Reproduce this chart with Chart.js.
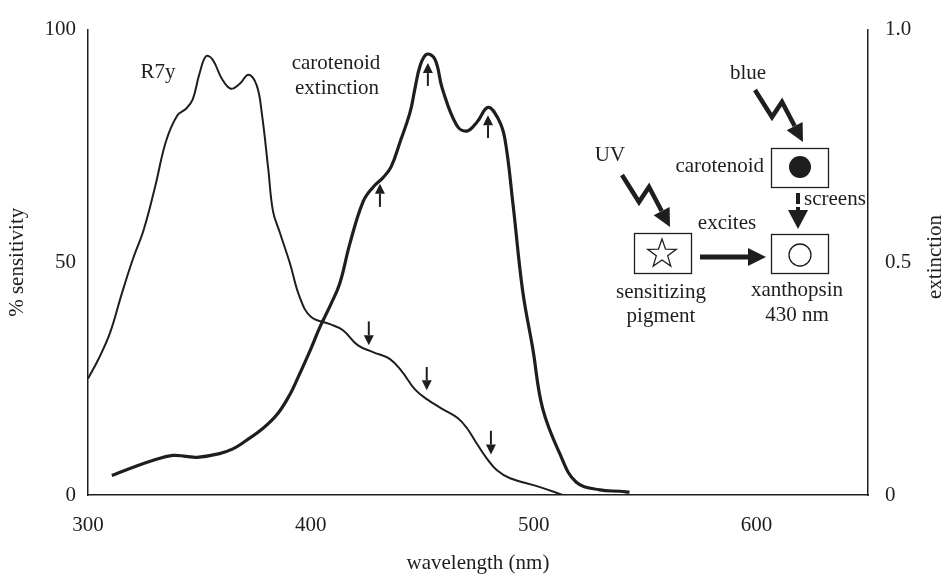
<!DOCTYPE html>
<html>
<head>
<meta charset="utf-8">
<script src="https://cdn.jsdelivr.net/npm/chart.js@4/dist/chart.umd.min.js"></script>
<style>
  html, body { margin: 0; padding: 0; background: #fff; }
  canvas { display: block; }
</style>
</head>
<body>
<canvas id="spectra" width="944" height="576"></canvas>
<script>
// R7y spectral sensitivity (% , left axis)
const r7yNm = [300, 305, 310, 315, 320, 325, 330, 335, 340, 344, 347, 350, 353, 356, 360, 364, 368, 372,
  375.7, 378, 380.9, 383, 386, 390.6, 395, 400, 408.6, 414.4, 421, 427.9, 435.5, 440.9, 446.7,
  452, 459.3, 466, 470, 474.5, 479, 483.5, 489.4, 502.8, 513];
const r7ySens = [25, 29.5, 35, 43, 50.5, 57, 66, 76, 81.5, 83, 85, 90.5, 94.3, 93.5, 89.5, 87.3, 88.3, 90.3,
  88, 82, 70, 61, 56.5, 49.8, 42.5, 38.3, 36.7, 35.4, 32.2, 30.7, 29.2, 26.5, 22.7,
  20.6, 18.4, 16.5, 14.4, 11, 7.8, 5.3, 3.6, 1.7, 0];

// carotenoid extinction (right axis)
const carNm = [310.7, 320, 329, 338, 344, 349, 359, 365, 371, 378.7, 385, 390.6, 394, 400, 404, 409, 413, 417.5,
  423.4, 428, 432.4, 436, 440, 444.5, 446.7, 449, 452, 455.7, 459, 465.5, 470, 474.5, 479.5, 484, 487,
  490.7, 495, 499.6, 504, 511.7, 519, 529.7, 538.7, 543];
const carExt = [0.042, 0.059, 0.074, 0.085, 0.083, 0.081, 0.089, 0.099, 0.117, 0.144, 0.174, 0.216, 0.25, 0.314, 0.36, 0.41, 0.455, 0.54,
  0.63, 0.662, 0.682, 0.705, 0.758, 0.822, 0.873, 0.922, 0.947, 0.936, 0.873, 0.794, 0.782, 0.801, 0.833, 0.809, 0.767,
  0.625, 0.44, 0.314, 0.186, 0.089, 0.028, 0.011, 0.008, 0.006];

const xTicks = [300, 400, 500, 600];
const sensTicks = [0, 50, 100];
const extTicks = [0, 0.5, 1.0];
const extTickLabels = ['0', '0.5', '1.0'];

// arrows marking the vibronic bands
const upArrowNm = [431, 452.5, 479.5];
const upArrowExt = [[0.619, 0.669], [0.879, 0.928], [0.767, 0.816]];
const downArrowNm = [426, 452, 480.8];
const downArrowSens = [[37.3, 32.2], [27.5, 22.5], [13.8, 8.7]];

const ink = '#1e1e1e';
const serif = '"Liberation Serif", "Times New Roman", serif';

Chart.defaults.font.family = serif;
Chart.defaults.font.size = 21;
Chart.defaults.color = ink;

function arrowHead(ctx, tx, ty, dx, dy, len, half) {
  const l = Math.hypot(dx, dy);
  const ux = dx / l, uy = dy / l;
  const bx = tx - ux * len, by = ty - uy * len;
  ctx.beginPath();
  ctx.moveTo(tx, ty);
  ctx.lineTo(bx - uy * half, by + ux * half);
  ctx.lineTo(bx + uy * half, by - ux * half);
  ctx.closePath();
  ctx.fill();
  return [bx, by];
}

function vArrow(ctx, px, yFrom, yTo) {
  const dir = yTo < yFrom ? -1 : 1;
  const [bx, by] = arrowHead(ctx, px, yTo, 0, dir, 10, 5);
  ctx.lineWidth = 2;
  ctx.beginPath();
  ctx.moveTo(px, yFrom);
  ctx.lineTo(bx, by);
  ctx.stroke();
}

// lightning-style arrow (light)
function bolt(ctx, x0, y0) {
  const pts = [[0, 0], [17, 27], [27, 12], [48, 52]];
  const last = pts[3], prev = pts[2];
  const [bx, by] = arrowHead(ctx, x0 + last[0], y0 + last[1], last[0] - prev[0], last[1] - prev[1], 18, 9);
  ctx.lineWidth = 4.5;
  ctx.lineJoin = 'miter';
  ctx.beginPath();
  ctx.moveTo(x0, y0);
  ctx.lineTo(x0 + pts[1][0], y0 + pts[1][1]);
  ctx.lineTo(x0 + pts[2][0], y0 + pts[2][1]);
  ctx.lineTo(bx, by);
  ctx.stroke();
}

function star(ctx, cx, cy, R, r) {
  ctx.beginPath();
  for (let i = 0; i < 10; i++) {
    const a = -Math.PI / 2 + i * Math.PI / 5;
    const rad = i % 2 === 0 ? R : r;
    const px = cx + rad * Math.cos(a), py = cy + rad * Math.sin(a);
    if (i === 0) ctx.moveTo(px, py); else ctx.lineTo(px, py);
  }
  ctx.closePath();
  ctx.stroke();
}

const overlay = {
  id: 'overlay',
  afterDraw(chart) {
    const ctx = chart.ctx;
    const { x, y, y2 } = chart.scales;
    ctx.save();
    ctx.fillStyle = ink;
    ctx.strokeStyle = ink;
    ctx.font = '21px ' + serif;
    ctx.textAlign = 'center';
    ctx.textBaseline = 'middle';

    // curve labels
    ctx.fillText('R7y', 158, 72);
    ctx.fillText('carotenoid', 336, 63);
    ctx.fillText('extinction', 337, 88);

    // right axis title, reading upwards
    ctx.save();
    ctx.translate(935, 257);
    ctx.rotate(-Math.PI / 2);
    ctx.fillText('extinction', 0, 0);
    ctx.restore();

    upArrowNm.forEach((w, i) => {
      vArrow(ctx, x.getPixelForValue(w), y2.getPixelForValue(upArrowExt[i][0]), y2.getPixelForValue(upArrowExt[i][1]));
    });
    downArrowNm.forEach((w, i) => {
      vArrow(ctx, x.getPixelForValue(w), y.getPixelForValue(downArrowSens[i][0]), y.getPixelForValue(downArrowSens[i][1]));
    });

    // inset scheme
    ctx.fillText('blue', 748, 73);
    ctx.fillText('UV', 610, 155);
    ctx.fillText('excites', 727, 223);
    ctx.fillText('sensitizing', 661, 292);
    ctx.fillText('pigment', 661, 316);
    ctx.fillText('xanthopsin', 797, 290);
    ctx.fillText('430 nm', 797, 315);
    ctx.textAlign = 'right';
    ctx.fillText('carotenoid', 764, 166);
    ctx.textAlign = 'left';
    ctx.fillText('screens', 804, 199);

    bolt(ctx, 755, 90);
    bolt(ctx, 622, 175);

    ctx.lineWidth = 1.3;
    ctx.strokeRect(771.5, 148.5, 57, 39);
    ctx.strokeRect(771.5, 234.5, 57, 39);
    ctx.strokeRect(634.5, 233.5, 57, 40);

    ctx.beginPath();
    ctx.arc(800, 167, 11, 0, Math.PI * 2);
    ctx.fill();
    ctx.beginPath();
    ctx.arc(800, 255, 11, 0, Math.PI * 2);
    ctx.stroke();
    star(ctx, 662, 254, 15, 6);

    // screens: dash then arrow
    ctx.fillRect(796, 193, 4, 11);
    const [sbx, sby] = arrowHead(ctx, 798, 229, 0, 1, 19, 10);
    ctx.fillRect(796, 207, 4, sby - 207 + 1);

    // excites arrow
    const [ebx] = arrowHead(ctx, 766, 257, 1, 0, 18, 9);
    ctx.fillRect(700, 254.5, ebx - 700 + 1, 5);

    ctx.restore();
  }
};

const axisTitleFont = { family: serif, size: 21 };

new Chart(document.getElementById('spectra'), {
  type: 'line',
  data: {
    datasets: [
      {
        label: 'R7y',
        data: r7yNm.map((w, i) => ({ x: w, y: r7ySens[i] })),
        yAxisID: 'y',
        borderColor: ink,
        borderWidth: 2,
        pointRadius: 0,
        tension: 0.4,
        fill: false
      },
      {
        label: 'carotenoid extinction',
        data: carNm.map((w, i) => ({ x: w, y: carExt[i] })),
        yAxisID: 'y2',
        borderColor: ink,
        borderWidth: 3.2,
        pointRadius: 0,
        tension: 0.4,
        fill: false
      }
    ]
  },
  options: {
    responsive: false,
    animation: false,
    layout: { padding: { top: 23, left: 0, right: 0, bottom: 0 } },
    plugins: { legend: { display: false }, tooltip: { enabled: false } },
    scales: {
      x: {
        type: 'linear',
        min: 300,
        max: 650,
        afterBuildTicks: (s) => { s.ticks = xTicks.map(v => ({ value: v })); },
        afterFit: (s) => { s.height = 81; },
        ticks: { padding: 18, maxRotation: 0, autoSkip: false },
        grid: { display: false, drawTicks: false },
        border: { display: true, color: ink, width: 1.5 },
        title: { display: true, text: 'wavelength (nm)', font: axisTitleFont, padding: { top: 0, bottom: 0 } }
      },
      y: {
        position: 'left',
        min: 0,
        max: 100,
        afterBuildTicks: (s) => { s.ticks = sensTicks.map(v => ({ value: v })); },
        afterFit: (s) => { s.width = 88; },
        ticks: { padding: 12 },
        grid: { display: false, drawTicks: false },
        border: { display: true, color: ink, width: 1.5 },
        title: { display: true, text: '% sensitivity', font: axisTitleFont, padding: { top: 5, bottom: 0 } }
      },
      y2: {
        position: 'right',
        min: 0,
        max: 1,
        afterBuildTicks: (s) => { s.ticks = extTicks.map(v => ({ value: v })); },
        afterFit: (s) => { s.width = 76; },
        ticks: { padding: 17, callback: (v) => extTickLabels[extTicks.indexOf(v)] },
        grid: { display: false, drawTicks: false },
        border: { display: true, color: ink, width: 1.5 }
      }
    }
  },
  plugins: [overlay]
});
</script>
</body>
</html>
